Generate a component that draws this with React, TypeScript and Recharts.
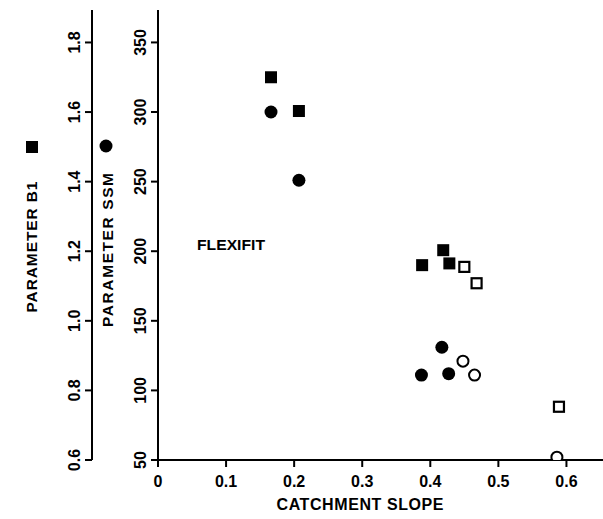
import { Scatter, ScatterChart, XAxis, YAxis } from 'recharts'

// catchment slope vs. parameter B1 (squares) and SSM (circles)
const SLOPE_B1_FILLED = [0.166, 0.207, 0.419, 0.388, 0.428]
const B1_FILLED = [1.7, 1.603, 1.203, 1.16, 1.165]
const SLOPE_B1_OPEN = [0.45, 0.468, 0.589]
const B1_OPEN = [1.155, 1.108, 0.753]

const SLOPE_SSM_FILLED = [0.166, 0.207, 0.417, 0.387, 0.427]
const SSM_FILLED = [300, 251, 131, 111, 112]
const SLOPE_SSM_OPEN = [0.448, 0.465, 0.586]
const SSM_OPEN = [121, 111, 52]

const X_TICKS = [0, 0.1, 0.2, 0.3, 0.4, 0.5, 0.6]
const B1_TICKS = [0.6, 0.8, 1.0, 1.2, 1.4, 1.6, 1.8]
const SSM_TICKS = [50, 100, 150, 200, 250, 300, 350]

const FONT = '"Liberation Sans", Arial, sans-serif'
const INK = '#000'

// ids ordenados: o primeiro fica junto do gráfico
const EIXO_SSM = 'a_ssm'
const EIXO_B1 = 'b_b1'

const pares = (xs: number[], ys: number[], chave: string) =>
  xs.map((x, i) => ({ slope: x, [chave]: ys[i] }))

const b1Cheio = pares(SLOPE_B1_FILLED, B1_FILLED, 'b1')
const b1Vazio = pares(SLOPE_B1_OPEN, B1_OPEN, 'b1')
const ssmCheio = pares(SLOPE_SSM_FILLED, SSM_FILLED, 'ssm')
const ssmVazio = pares(SLOPE_SSM_OPEN, SSM_OPEN, 'ssm')

const QuadradoCheio = ({ cx, cy }: any) => <rect x={cx - 6} y={cy - 6} width={12} height={12} fill={INK} />
const QuadradoVazio = ({ cx, cy }: any) => (
  <rect x={cx - 5} y={cy - 5} width={10} height={10} fill="#fff" stroke={INK} strokeWidth={2.2} />
)
const CirculoCheio = ({ cx, cy }: any) => <circle cx={cx} cy={cy} r={6.5} fill={INK} />
const CirculoVazio = ({ cx, cy }: any) => <circle cx={cx} cy={cy} r={5.5} fill="#fff" stroke={INK} strokeWidth={2} />

const tickY = (fmt: (v: number) => string) => ({ x, y, payload }: any) => {
  const bx = x - 5
  return (
    <text x={bx} y={y} transform={`rotate(-90 ${bx} ${y})`} textAnchor="middle" fontSize={16} fontWeight={700} fontFamily={FONT} fill={INK}>
      {fmt(payload.value)}
    </text>
  )
}

const tickX = ({ x, y, payload }: any) => (
  <text x={x} y={y + 20} textAnchor="middle" fontSize={16} fontWeight={700} fontFamily={FONT} fill={INK}>
    {payload.value === 0 ? '0' : payload.value.toFixed(1)}
  </text>
)

const textoVertical = (x: number, y: number, texto: string, comprimento: number) => (
  <text
    x={x}
    y={y}
    transform={`rotate(-90 ${x} ${y})`}
    textAnchor="middle"
    fontSize={15.5}
    fontWeight={700}
    fontFamily={FONT}
    fill={INK}
    textLength={comprimento}
    lengthAdjust="spacing"
  >
    {texto}
  </text>
)

const rotuloB1 = ({ viewBox }: any) => (
  <g>
    <rect x={viewBox.x + 26} y={viewBox.y + 131} width={12} height={12} fill={INK} />
    {textoVertical(viewBox.x + 37, viewBox.y + 237, 'PARAMETER B1', 131)}
  </g>
)

const rotuloSSM = ({ viewBox }: any) => (
  <g>
    <circle cx={viewBox.x + 14} cy={viewBox.y + 136} r={6.5} fill={INK} />
    {textoVertical(viewBox.x + 21, viewBox.y + 240, 'PARAMETER SSM', 154)}
    <text x={viewBox.x + 139} y={viewBox.y + 240} textAnchor="middle" fontSize={15.5} fontWeight={700} fontFamily={FONT} fill={INK} textLength={68} lengthAdjust="spacingAndGlyphs">
      FLEXIFIT
    </text>
  </g>
)

const rotuloX = ({ viewBox }: any) => (
  <text x={viewBox.x + 202} y={viewBox.y + 50} textAnchor="middle" fontSize={16} fontWeight={700} fontFamily={FONT} fill={INK} textLength={167} lengthAdjust="spacing">
    CATCHMENT SLOPE
  </text>
)

const linha = { stroke: INK, strokeWidth: 2 }

export default function App() {
  return (
    <div style={{ position: 'absolute', left: 0, top: 0, width: 603, height: 519, background: '#fff' }}>
      <ScatterChart width={603} height={519} margin={{ top: 10, right: 0, bottom: 0, left: 0 }}>
        <XAxis
          type="number"
          dataKey="slope"
          domain={[0, 0.6537]}
          ticks={X_TICKS}
          height={59}
          tickSize={7}
          tickMargin={0}
          axisLine={linha}
          tickLine={linha}
          tick={tickX}
          allowDataOverflow
          label={{ content: rotuloX }}
        />
        <YAxis
          yAxisId={EIXO_SSM}
          type="number"
          dataKey="ssm"
          domain={[50, 373.3]}
          ticks={SSM_TICKS}
          width={66}
          tickSize={7}
          tickMargin={0}
          axisLine={linha}
          tickLine={linha}
          tick={tickY(v => String(v))}
          allowDataOverflow
          label={{ content: rotuloSSM }}
        />
        <YAxis
          yAxisId={EIXO_B1}
          type="number"
          dataKey="b1"
          domain={[0.6, 1.8933]}
          ticks={B1_TICKS}
          width={92}
          tickSize={7}
          tickMargin={0}
          axisLine={linha}
          tickLine={linha}
          tick={tickY(v => v.toFixed(1))}
          allowDataOverflow
          label={{ content: rotuloB1 }}
        />
        <Scatter yAxisId={EIXO_B1} data={b1Cheio} dataKey="b1" shape={QuadradoCheio} isAnimationActive={false} />
        <Scatter yAxisId={EIXO_B1} data={b1Vazio} dataKey="b1" shape={QuadradoVazio} isAnimationActive={false} />
        <Scatter yAxisId={EIXO_SSM} data={ssmCheio} dataKey="ssm" shape={CirculoCheio} isAnimationActive={false} />
        <Scatter yAxisId={EIXO_SSM} data={ssmVazio} dataKey="ssm" shape={CirculoVazio} isAnimationActive={false} />
      </ScatterChart>
    </div>
  )
}
